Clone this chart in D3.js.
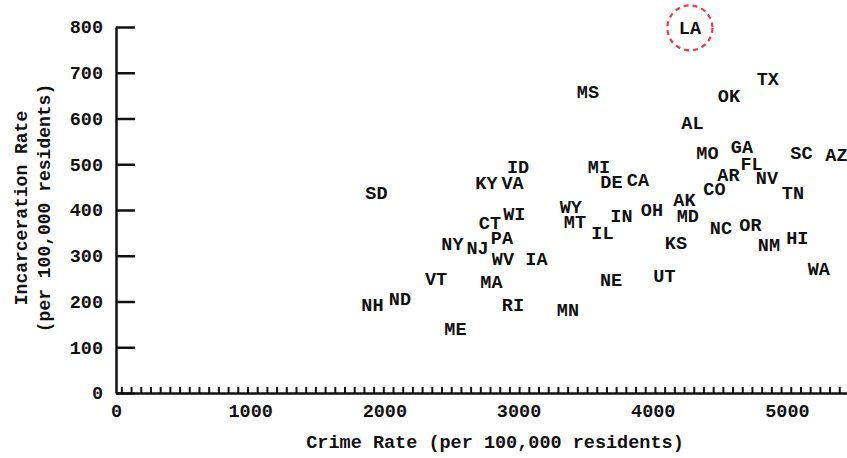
<!DOCTYPE html>
<html>
<head>
<meta charset="utf-8">
<script src="https://cdn.jsdelivr.net/npm/d3@7"></script>
<style>
  body { margin: 0; background: #fff; }
  svg text { font-family: "Liberation Mono", "Courier New", monospace; font-weight: bold; fill: #111; }
  .axis path, .axis line { stroke: #111; }
</style>
</head>
<body>
<div id="chart"></div>
<script>
// state abbreviations, crime rate and incarceration rate (per 100,000)
var states = ["LA","TX","OK","MS","AL","MO","GA","SC","AZ","FL","AR","NV","CO","TN","MI","DE","CA",
  "ID","KY","VA","SD","AK","OH","MD","WY","MT","IN","IL","WI","CT","PA","NY","NJ","WV","IA",
  "NC","OR","KS","NM","HI","WA","VT","MA","NE","UT","NH","ND","RI","MN","ME"];
var crimeRate = [4277,4858,4568,3517,4296,4408,4665,5108,5369,4736,4564,4851,4460,5045,3599,3692,3890,
  2996,2761,2955,1941,4236,3994,4262,3390,3420,3767,3625,2969,2787,2876,2507,2694,2884,3133,
  4508,4728,4173,4866,5078,5238,2385,2798,3689,4087,1911,2116,2958,3368,2530];
var incarceration = [798,687,651,658,592,526,539,526,522,501,477,471,446,438,495,462,466,
  495,460,461,439,422,402,389,407,374,387,351,392,372,340,327,318,295,295,
  361,369,330,325,340,271,250,243,249,257,193,207,193,183,142];
var xTicks = [0,1000,2000,3000,4000,5000];
var yTicks = [0,100,200,300,400,500,600,700,800];
var highlight = "LA";

var width = 847, height = 458;

var svg = d3.select("#chart").append("svg")
  .attr("width", width)
  .attr("height", height);

var x = d3.scaleLinear().domain([0, 5500]).range([116, 854]);
var y = d3.scaleLinear().domain([0, 800]).range([393, 27]);

// y axis, ticks pointing into the plot
var yAxis = svg.append("g")
  .attr("class", "axis")
  .attr("transform", "translate(" + x(0) + ",0)")
  .call(d3.axisLeft(y).tickValues(yTicks).tickSize(-19).tickSizeOuter(0).tickPadding(13));
yAxis.select(".domain").attr("stroke-width", 2.5);
yAxis.selectAll(".tick line").attr("stroke-width", 2.5);
yAxis.selectAll("text").style("font-size", "18.5px");

// x axis: small ticks
var xMinor = svg.append("g")
  .attr("class", "axis")
  .attr("transform", "translate(0," + y(0) + ")")
  .call(d3.axisBottom(x).tickValues(d3.range(40, 5500, 72.3)).tickSize(-6).tickSizeOuter(0).tickFormat(""));
xMinor.select(".domain").attr("stroke-width", 2.5);
xMinor.selectAll(".tick line").attr("stroke-width", 2);

// x axis labels
var xAxis = svg.append("g")
  .attr("class", "axis")
  .attr("transform", "translate(0," + y(0) + ")")
  .call(d3.axisBottom(x).tickValues(xTicks).tickSize(0).tickPadding(11).tickFormat(d3.format("d")));
xAxis.select(".domain").remove();
xAxis.selectAll("text").style("font-size", "18.5px");

// axis titles
svg.append("text")
  .attr("x", 495)
  .attr("y", 448)
  .attr("text-anchor", "middle")
  .style("font-size", "18.5px")
  .text("Crime Rate (per 100,000 residents)");

var yTitle = svg.append("text")
  .attr("transform", "translate(27,208) rotate(-90)")
  .attr("text-anchor", "middle")
  .style("font-size", "18px");
yTitle.append("tspan").attr("x", 0).attr("dy", 0).text("Incarceration Rate");
yTitle.append("tspan").attr("x", 0).attr("dy", "1.25em").text("(per 100,000 residents)");

// state labels
var data = states.map(function(s, i) {
  return {name: s, cr: crimeRate[i], ir: incarceration[i]};
});

svg.selectAll("text.state")
  .data(data)
  .enter()
  .append("text")
  .attr("class", "state")
  .attr("x", function(d) { return x(d.cr); })
  .attr("y", function(d) { return y(d.ir); })
  .attr("dy", "0.35em")
  .attr("text-anchor", "middle")
  .style("font-size", "18.5px")
  .text(function(d) { return d.name; });

// dashed circle around the highlighted state
var h = data.filter(function(d) { return d.name === highlight; })[0];
svg.append("circle")
  .attr("cx", x(h.cr))
  .attr("cy", y(h.ir))
  .attr("r", 22.5)
  .attr("fill", "none")
  .attr("stroke", "#ec3b46")
  .attr("stroke-width", 2.2)
  .attr("stroke-dasharray", "5,4");
</script>
</body>
</html>
